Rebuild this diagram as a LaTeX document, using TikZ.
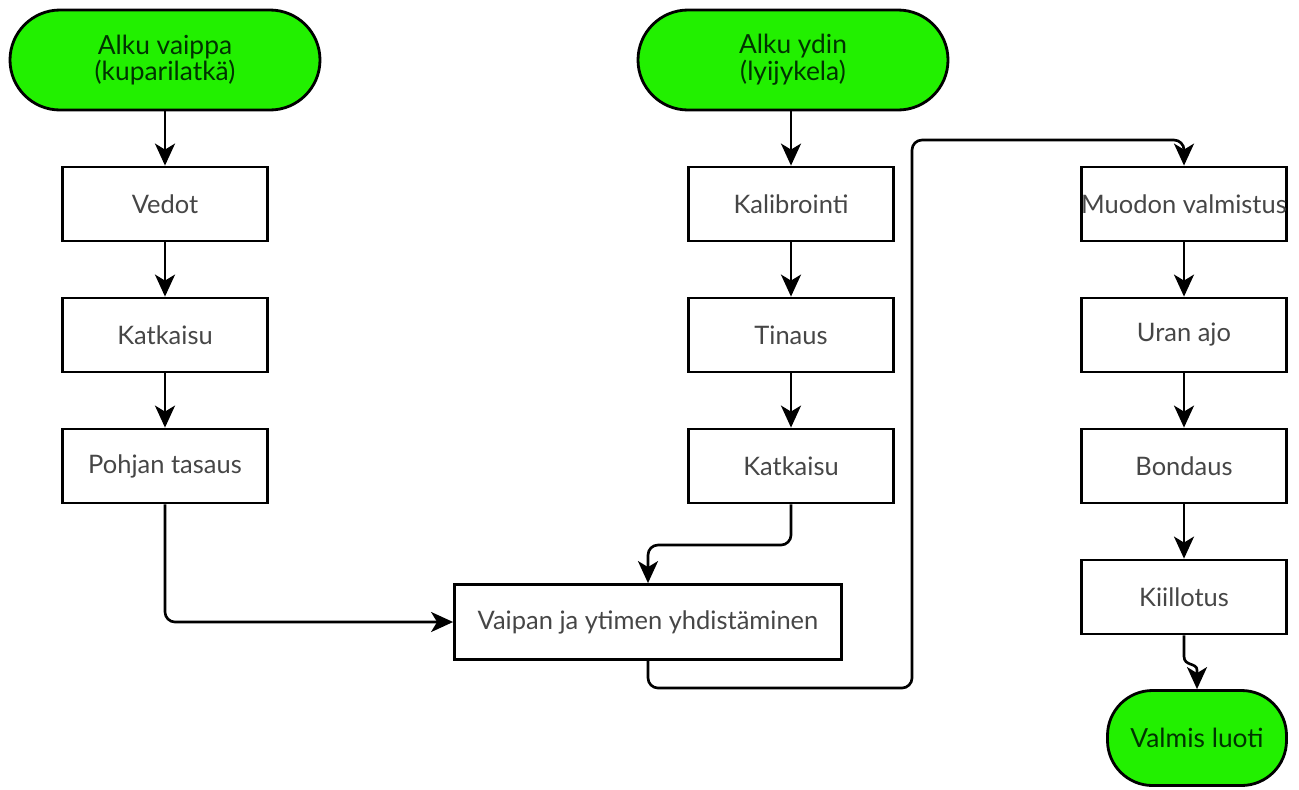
\documentclass[tikz,border=0pt]{standalone}
\usepackage{fontspec}
\setmainfont{Lato}
\usepackage{tikz}
\usetikzlibrary{arrows.meta,positioning}

\definecolor{startgreen}{RGB}{34,240,0}
\definecolor{boxtext}{RGB}{70,70,70}
\tikzset{
  stepbox/.style={draw, line width=1.6pt, minimum width=4.1cm, minimum height=1.48cm, inner sep=0pt, text=boxtext, font=\fontsize{14.5}{15}\selectfont},
  startbox/.style={draw, line width=1.6pt, fill=startgreen, rounded corners=1cm, minimum width=6.2cm, minimum height=2cm, align=center, text=black!80!green, font=\fontsize{15}{12.5}\selectfont},
  flow/.style={line width=1.5pt, rounded corners=0.2cm, -{Stealth[length=4.4mm,width=4mm,inset=1.2mm]}}
}

\begin{document}
\begin{tikzpicture}[scale=1]
\useasboundingbox (0,0) rectangle (25.98,-15.78);
\node (s1) at (3.3,-1.2) [startbox] {Alku vaippa\\(kuparilatkä)};
\node (s2) at (15.86,-1.2) [startbox] {Alku ydin\\(lyijykela)};
\node (a1) at (3.3,-4.08) [stepbox] {Vedot};
\node (a2) at (3.3,-6.7) [stepbox] {Katkaisu};
\node (a3) at (3.3,-9.32) [stepbox] {Pohjan tasaus};
\node (b1) at (15.82,-4.08) [stepbox] {Kalibrointi};
\node (b2) at (15.82,-6.7) [stepbox] {Tinaus};
\node (b3) at (15.82,-9.32) [stepbox] {Katkaisu};
\node (yh) at (12.96,-12.44) [stepbox, minimum width=7.74cm, minimum height=1.5cm] {Vaipan ja ytimen yhdistäminen};
\node (c1) at (23.68,-4.08) [stepbox] {Muodon valmistus};
\node (c2) at (23.68,-6.7) [stepbox] {Uran ajo};
\node (c3) at (23.68,-9.32) [stepbox] {Bondaus};
\node (c4) at (23.68,-11.94) [stepbox] {Kiillotus};
\node (end) at (23.94,-14.76) [startbox, minimum width=3.58cm, minimum height=1.9cm, rounded corners=0.9cm] {Valmis luoti};
\coordinate (low) at (18.24,-13.76);
\coordinate (high) at (18.24,-2.8);
\draw[flow]
(s1) to (a1);
\draw[flow]
(a1) to (a2);
\draw[flow]
(a2) to (a3);
\draw[flow]
(s2.south -| b1) to (b1);
\draw[flow]
(b1) to (b2);
\draw[flow]
(b2) to (b3);
\draw[flow] (a3.south) |- (yh.west);
\draw[flow] (b3.south) -- (b3.south |- 0,-10.9) -| (yh.north);
\draw[flow] (yh.south) |- (low) -- (high) -| (c1.north);
\draw[flow]
(c1) to (c2);
\draw[flow]
(c2) to (c3);
\draw[flow]
(c3) to (c4);
\draw[flow, rounded corners=0pt] (c4.south) -- ++(0,-0.42) .. controls ++(0,-0.2) and ++(0,0.15) .. (end.north |- 0,-13.4) -- (end.north);
\end{tikzpicture}
\end{document}
